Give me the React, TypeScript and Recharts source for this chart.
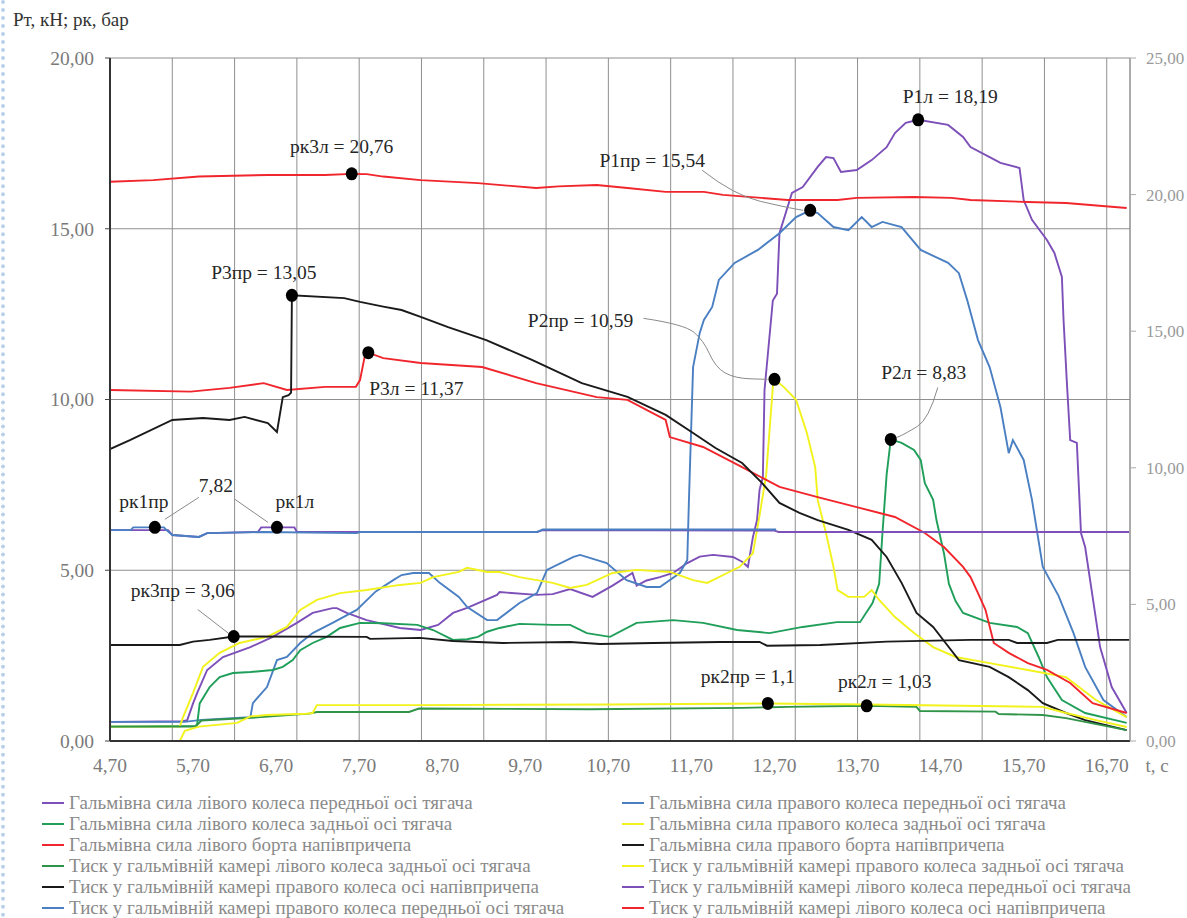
import React from 'react';
import { LineChart, Line, XAxis, YAxis, CartesianGrid, ReferenceDot } from 'recharts';

type Pt = [number, number];

// ---- axes ----
const timeDomain: [number, number] = [4.7, 16.98];
const timeTicks = [4.7, 5.7, 6.7, 7.7, 8.7, 9.7, 10.7, 11.7, 12.7, 13.7, 14.7, 15.7, 16.7];
const gridTimes = [4.7, 5.45, 6.2, 6.95, 7.7, 8.45, 9.2, 9.95, 10.7, 11.45, 12.2, 12.95, 13.7, 14.45, 15.2, 15.95, 16.7];
const forceTicks = [0, 5, 10, 15, 20];
const pressureTicks = [0, 5, 10, 15, 20, 25];

// ---- braking forces Pт, kN (left axis): [t, value] ----
const forceLeftFront: Pt[] = [
  [4.70, 0.56], [5.58, 0.58], [5.63, 0.61], [5.70, 1.10], [5.75, 1.41], [5.87, 2.08], [6.06, 2.46], [6.39, 2.75],
  [6.66, 3.05], [6.95, 3.46], [7.14, 3.75], [7.38, 3.89], [7.43, 3.89], [7.55, 3.75], [7.79, 3.54], [8.19, 3.31],
  [8.44, 3.25], [8.65, 3.40], [8.83, 3.75], [9.00, 3.90], [9.36, 4.28], [9.39, 4.36], [9.84, 4.28], [10.03, 4.30],
  [10.24, 4.45], [10.51, 4.22], [10.75, 4.55], [10.99, 4.92], [11.04, 4.55], [11.16, 4.70], [11.32, 4.80],
  [11.48, 4.92], [11.65, 5.21], [11.80, 5.40], [11.96, 5.45], [12.20, 5.39], [12.31, 5.25], [12.38, 5.10],
  [12.44, 5.97], [12.49, 6.47], [12.52, 7.35], [12.56, 7.73], [12.58, 10.28], [12.68, 12.90], [12.73, 13.10],
  [12.76, 14.87], [12.91, 16.05], [13.04, 16.22], [13.22, 16.81], [13.32, 17.10], [13.41, 17.07], [13.50, 16.66],
  [13.69, 16.72], [13.87, 17.01], [14.05, 17.39], [14.15, 17.80], [14.28, 18.10], [14.43, 18.19], [14.79, 18.04],
  [14.97, 17.69], [15.06, 17.39], [15.29, 17.10], [15.42, 16.93], [15.65, 16.78], [15.70, 15.84], [15.80, 15.26],
  [15.98, 14.67], [16.07, 14.29], [16.16, 13.59], [16.18, 12.33], [16.22, 10.50], [16.26, 8.81], [16.34, 8.73],
  [16.39, 6.09], [16.44, 5.68], [16.53, 4.22], [16.62, 2.75], [16.76, 1.58], [16.94, 0.82],
];

const forceRightFront: Pt[] = [
  [4.70, 0.56], [5.60, 0.56], [5.80, 0.62], [6.39, 0.70], [6.42, 1.11], [6.59, 1.58], [6.71, 2.37], [6.83, 2.46],
  [6.99, 2.87], [7.14, 3.16], [7.38, 3.46], [7.67, 3.84], [7.90, 4.38], [8.11, 4.71], [8.21, 4.86], [8.35, 4.92],
  [8.54, 4.92], [8.67, 4.63], [8.90, 4.22], [9.00, 3.92], [9.24, 3.54], [9.36, 3.54], [9.63, 4.04], [9.84, 4.33],
  [9.96, 5.01], [10.28, 5.39], [10.36, 5.45], [10.68, 5.21], [10.92, 4.71], [11.16, 4.51], [11.32, 4.51],
  [11.56, 4.92], [11.65, 5.30], [11.67, 7.06], [11.72, 10.95], [11.80, 11.95], [11.85, 12.33], [11.95, 12.71],
  [12.03, 13.50], [12.22, 14.00], [12.50, 14.38], [12.76, 14.87], [12.96, 15.34], [13.13, 15.54], [13.22, 15.46],
  [13.41, 15.05], [13.59, 14.96], [13.75, 15.34], [13.87, 15.05], [14.00, 15.20], [14.23, 15.05], [14.46, 14.38],
  [14.79, 14.00], [14.92, 13.70], [15.02, 12.91], [15.15, 11.74], [15.29, 10.95], [15.42, 9.78], [15.52, 8.43],
  [15.57, 8.81], [15.70, 8.23], [15.80, 7.06], [15.93, 5.10], [16.12, 4.25], [16.30, 3.16], [16.44, 2.17],
  [16.66, 1.20], [16.94, 0.70],
];

const forceLeftRear: Pt[] = [
  [4.70, 0.42], [5.73, 0.44], [5.75, 0.50], [5.78, 1.10], [5.90, 1.58], [5.95, 1.70], [6.02, 1.87], [6.18, 1.99],
  [6.39, 2.02], [6.66, 2.08], [6.78, 2.17], [6.90, 2.37], [6.99, 2.66], [7.14, 2.87], [7.31, 3.05], [7.47, 3.31],
  [7.71, 3.46], [7.99, 3.45], [8.40, 3.40], [8.59, 3.25], [8.83, 2.96], [9.00, 2.98], [9.13, 3.05], [9.24, 3.20],
  [9.39, 3.31], [9.63, 3.43], [10.03, 3.40], [10.24, 3.40], [10.44, 3.16], [10.72, 3.05], [11.04, 3.46],
  [11.48, 3.54], [11.84, 3.46], [12.25, 3.25], [12.64, 3.16], [13.04, 3.34], [13.45, 3.48], [13.73, 3.48],
  [13.88, 4.04], [13.96, 4.60], [14.00, 6.09], [14.05, 7.80], [14.10, 8.83], [14.23, 8.73], [14.38, 8.52],
  [14.46, 8.23], [14.51, 7.55], [14.61, 7.06], [14.65, 6.47], [14.74, 5.50], [14.80, 4.60], [14.88, 4.10],
  [14.97, 3.75], [15.29, 3.46], [15.62, 3.34], [15.75, 3.16], [15.88, 2.46], [15.98, 1.87], [16.16, 1.20],
  [16.44, 0.82], [16.94, 0.53],
];

const forceRightRear: Pt[] = [
  [4.70, 0.42], [5.54, 0.42], [5.58, 0.70], [5.70, 1.41], [5.82, 2.17], [6.02, 2.58], [6.26, 2.87], [6.59, 3.05],
  [6.83, 3.34], [6.99, 3.84], [7.19, 4.13], [7.47, 4.33], [7.79, 4.42], [8.19, 4.57], [8.44, 4.63], [8.59, 4.80],
  [8.90, 4.95], [9.00, 5.07], [9.24, 4.95], [9.39, 4.95], [9.63, 4.80], [9.84, 4.71], [10.03, 4.63], [10.24, 4.48],
  [10.44, 4.57], [10.75, 4.92], [11.04, 5.01], [11.44, 4.95], [11.72, 4.71], [11.89, 4.63], [12.13, 4.92],
  [12.28, 5.10], [12.44, 5.50], [12.52, 6.60], [12.60, 7.80], [12.68, 10.37], [12.70, 10.59], [12.81, 10.37],
  [12.96, 9.99], [13.09, 9.02], [13.19, 8.02], [13.22, 7.06], [13.32, 6.09], [13.41, 5.10], [13.46, 4.42],
  [13.59, 4.22], [13.78, 4.22], [13.87, 4.42], [13.96, 4.13], [14.15, 3.63], [14.38, 3.16], [14.61, 2.75],
  [14.88, 2.46], [15.29, 2.28], [15.75, 2.08], [16.21, 1.87], [16.57, 1.20], [16.94, 0.70],
];

const forceLeftTrailer: Pt[] = [
  [4.70, 10.28], [5.67, 10.23], [6.14, 10.34], [6.55, 10.48], [6.83, 10.28], [7.29, 10.37], [7.66, 10.37],
  [7.71, 10.57], [7.77, 11.30], [7.81, 11.37], [7.99, 11.21], [8.44, 11.07], [9.18, 10.95], [9.83, 10.48],
  [10.56, 10.07], [10.93, 9.99], [11.39, 9.40], [11.44, 8.90], [11.84, 8.61], [12.31, 8.02], [12.76, 7.44],
  [13.22, 7.14], [13.69, 6.85], [14.15, 6.56], [14.51, 6.09], [14.74, 5.68], [14.97, 5.10], [15.06, 4.80],
  [15.15, 4.33], [15.24, 3.84], [15.34, 2.87], [15.52, 2.58], [15.75, 2.28], [15.98, 2.08], [16.26, 1.70],
  [16.53, 1.11], [16.94, 0.82],
];

const forceRightTrailer: Pt[] = [
  [4.70, 8.55], [4.94, 8.81], [5.45, 9.40], [5.82, 9.46], [6.14, 9.40], [6.32, 9.49], [6.60, 9.31], [6.71, 9.05],
  [6.78, 10.07], [6.85, 10.13], [6.88, 10.20], [6.89, 13.05], [7.52, 12.97], [7.71, 12.86], [7.99, 12.72],
  [8.21, 12.62], [8.44, 12.42], [8.77, 12.12], [9.23, 11.74], [9.78, 11.16], [10.38, 10.48], [10.93, 10.08],
  [11.39, 9.55], [11.72, 9.02], [11.99, 8.58], [12.31, 8.14], [12.54, 7.58], [12.76, 6.97], [13.00, 6.68],
  [13.22, 6.47], [13.59, 6.18], [13.87, 5.89], [14.05, 5.39], [14.23, 4.63], [14.41, 3.75], [14.61, 3.34],
  [14.76, 2.87], [14.92, 2.37], [15.29, 2.17], [15.52, 1.87], [15.75, 1.49], [15.93, 1.11], [16.21, 0.82],
  [16.44, 0.61], [16.94, 0.32],
];

// ---- chamber pressures рк, bar ----
const pressureLeftRear: Pt[] = [
  [4.70, 0.42], [5.73, 0.42], [5.80, 0.60], [6.40, 0.68], [7.10, 0.80], [7.19, 0.85], [8.30, 0.85], [8.42, 0.95],
  [10.48, 0.93], [12.31, 0.97], [12.86, 1.00], [13.81, 1.03], [14.41, 1.00], [14.45, 0.88], [15.36, 0.86],
  [15.40, 0.79], [15.93, 0.76], [16.21, 0.67], [16.94, 0.32],
];

const pressureRightRear: Pt[] = [
  [4.70, 0.00], [5.54, 0.00], [5.60, 0.30], [5.77, 0.42], [6.23, 0.53], [6.39, 0.72], [6.59, 0.76], [7.06, 0.80],
  [7.14, 0.82], [7.19, 1.05], [8.40, 1.05], [10.70, 1.07], [12.62, 1.10], [13.81, 1.07], [15.93, 1.00],
  [16.21, 0.82], [16.57, 0.61], [16.94, 0.41],
];

const pressureRightTrailer: Pt[] = [
  [4.70, 2.81], [5.54, 2.81], [5.70, 2.91], [5.90, 2.96], [6.19, 3.06], [7.79, 3.05], [7.83, 2.99], [8.43, 3.02],
  [8.83, 2.93], [9.43, 2.87], [10.24, 2.90], [10.60, 2.84], [11.24, 2.87], [12.04, 2.90], [12.52, 2.90],
  [12.61, 2.79], [13.25, 2.81], [14.05, 2.91], [15.06, 2.96], [15.52, 2.96], [15.62, 2.87], [15.98, 2.87],
  [16.11, 2.96], [16.97, 2.96],
];

const pressureLeftFront: Pt[] = [
  [4.70, 7.72], [5.40, 7.72], [5.45, 7.54], [5.77, 7.47], [5.87, 7.61], [6.48, 7.65], [6.52, 7.82], [6.92, 7.82],
  [6.95, 7.65], [9.84, 7.65], [9.91, 7.72], [12.70, 7.70], [12.75, 7.65], [16.97, 7.65],
];

const pressureRightFront: Pt[] = [
  [4.70, 7.72], [4.95, 7.72], [4.98, 7.82], [5.35, 7.82], [5.38, 7.72], [5.45, 7.54], [5.77, 7.47], [5.87, 7.61],
  [6.55, 7.65], [7.67, 7.61], [7.71, 7.65], [9.84, 7.65], [9.91, 7.74], [12.72, 7.74],
];

const pressureLeftTrailer: Pt[] = [
  [4.70, 20.47], [5.22, 20.53], [5.77, 20.66], [6.60, 20.72], [7.29, 20.72], [7.61, 20.76], [7.79, 20.75],
  [7.99, 20.66], [8.44, 20.53], [9.13, 20.42], [9.83, 20.24], [10.10, 20.30], [10.56, 20.35], [10.93, 20.24],
  [11.39, 20.10], [11.85, 20.10], [12.08, 19.99], [12.54, 19.88], [12.86, 19.80], [13.46, 19.80], [13.69, 19.88],
  [14.38, 19.91], [14.83, 19.88], [15.06, 19.80], [15.75, 19.73], [16.21, 19.69], [16.94, 19.51],
];

// ---- marked points ----
type Marker = { id: string; name: string; t: number; v: number; axis: 'left' | 'right'; showValue: boolean };
const markers: Marker[] = [
  { id: 'rk3l', name: 'рк3л', t: 7.61, v: 20.76, axis: 'right', showValue: true },
  { id: 'p3r', name: 'Р3пр', t: 6.89, v: 13.05, axis: 'left', showValue: true },
  { id: 'p1l', name: 'Р1л', t: 14.43, v: 18.19, axis: 'left', showValue: true },
  { id: 'p1r', name: 'Р1пр', t: 13.13, v: 15.54, axis: 'left', showValue: true },
  { id: 'p2r', name: 'Р2пр', t: 12.70, v: 10.59, axis: 'left', showValue: true },
  { id: 'p2l', name: 'Р2л', t: 14.10, v: 8.83, axis: 'left', showValue: true },
  { id: 'p3l', name: 'Р3л', t: 7.81, v: 11.37, axis: 'left', showValue: true },
  { id: 'rk1r', name: 'рк1пр', t: 5.24, v: 7.82, axis: 'right', showValue: false },
  { id: 'rk1l', name: 'рк1л', t: 6.71, v: 7.82, axis: 'right', showValue: false },
  { id: 'rk3r', name: 'рк3пр', t: 6.19, v: 3.06, axis: 'left', showValue: true },
  { id: 'rk2r', name: 'рк2пр', t: 12.62, v: 1.1, axis: 'left', showValue: true },
  { id: 'rk2l', name: 'рк2л', t: 13.81, v: 1.03, axis: 'left', showValue: true },
];
const sharedFrontValue = 7.82;

// ---- styling ----
const FONT = '"Liberation Serif", "Times New Roman", Tinos, "DejaVu Serif", "Noto Serif", serif';
const PURPLE = '#7d4fb8';
const BLUE = '#4a7fc2';
const GREEN = '#1f9f5a';
const GREEN_DARK = '#2f9448';
const YELLOW = '#f2f21c';
const RED = '#f0262c';
const BLACK = '#1a1a1a';

type Series = { key: string; label: string; color: string; axis: 'left' | 'right'; points: Pt[] };
const series: Series[] = [
  { key: 'P1l', label: 'Гальмівна сила лівого колеса передньої осі тягача', color: PURPLE, axis: 'left', points: forceLeftFront },
  { key: 'P1r', label: 'Гальмівна сила правого колеса передньої осі тягача', color: BLUE, axis: 'left', points: forceRightFront },
  { key: 'P2l', label: 'Гальмівна сила лівого колеса задньої осі тягача', color: GREEN, axis: 'left', points: forceLeftRear },
  { key: 'P2r', label: 'Гальмівна сила правого колеса задньої осі тягача', color: YELLOW, axis: 'left', points: forceRightRear },
  { key: 'P3l', label: 'Гальмівна сила лівого борта напівпричепа', color: RED, axis: 'left', points: forceLeftTrailer },
  { key: 'P3r', label: 'Гальмівна сила правого борта напівпричепа', color: BLACK, axis: 'left', points: forceRightTrailer },
  { key: 'rk2l', label: 'Тиск у гальмівній камері лівого колеса задньої осі тягача', color: GREEN_DARK, axis: 'left', points: pressureLeftRear },
  { key: 'rk2r', label: 'Тиск у гальмівній камері правого колеса задньої осі тягача', color: YELLOW, axis: 'left', points: pressureRightRear },
  { key: 'rk3r', label: 'Тиск у гальмівній камері правого колеса осі напівпричепа', color: BLACK, axis: 'left', points: pressureRightTrailer },
  { key: 'rk1l', label: 'Тиск у гальмівній камері лівого колеса передньої осі тягача', color: PURPLE, axis: 'right', points: pressureLeftFront },
  { key: 'rk1r', label: 'Тиск у гальмівній камері правого колеса передньої осі тягача', color: BLUE, axis: 'right', points: pressureRightFront },
  { key: 'rk3l', label: 'Тиск у гальмівній камері лівого колеса осі напівпричепа', color: RED, axis: 'right', points: pressureLeftTrailer },
];

// label placement relative to each marked point (px)
type Placement = { dx: number; dy: number; leaders?: Pt[][]; extra?: { dx: number; dy: number } };
const placement: Record<string, Placement> = {
  rk3l: { dx: -10, dy: -27 },
  p3r: { dx: -28, dy: -23 },
  p1l: { dx: 32, dy: -23 },
  p1r: { dx: -158, dy: -50, leaders: [[[-108, -40], [-76, -15], [-24, -3], [-7, 0]]] },
  p2r: { dx: -194, dy: -59, leaders: [[[-131, -61], [-90, -55], [-71, -39], [-59, -12], [-40, -1], [-7, 0]]] },
  p2l: { dx: 33, dy: -67, leaders: [[[47, -52], [38, -20], [15, -6], [6, -2]]] },
  p3l: { dx: 48, dy: 36 },
  rk1r: { dx: -11, dy: -26, leaders: [[[44, -30], [10, -8]]], extra: { dx: 61, dy: -42 } },
  rk1l: { dx: 18, dy: -26, leaders: [[[-42, -28], [-9, -5]]] },
  rk3r: { dx: -51, dy: -46, leaders: [[[-36, -27], [-5, -3]]] },
  rk2r: { dx: -20, dy: -27 },
  rk2l: { dx: 18, dy: -24 },
};

const fmt = (v: number) => String(v).replace('.', ',');
const fmt2 = (v: number) => v.toFixed(2).replace('.', ',');

const smoothPath = (pts: Pt[]) => {
  if (pts.length < 3) return pts.map((p, i) => `${i ? 'L' : 'M'}${p[0]},${p[1]}`).join(' ');
  let d = `M${pts[0][0]},${pts[0][1]}`;
  for (let i = 1; i < pts.length - 1; i++) {
    const mx = (pts[i][0] + pts[i + 1][0]) / 2;
    const my = (pts[i][1] + pts[i + 1][1]) / 2;
    d += ` Q${pts[i][0]},${pts[i][1]} ${mx},${my}`;
  }
  const last = pts[pts.length - 1];
  d += ` L${last[0]},${last[1]}`;
  return d;
};

const labelText = { fontFamily: FONT, fontSize: 19.5, fill: '#262626' };

const markerShape = (m: Marker) => (props: any) => {
  const { cx, cy } = props;
  const p = placement[m.id];
  const text = m.showValue ? `${m.name} = ${fmt(m.v)}` : m.name;
  return (
    <g>
      {(p.leaders || []).map((ln, i) => (
        <path
          key={i}
          d={smoothPath(ln.map(([x, y]) => [cx + x, cy + y] as Pt))}
          fill="none"
          stroke="#8a8a8a"
          strokeWidth={1}
        />
      ))}
      <ellipse cx={cx} cy={cy} rx={6} ry={6.5} fill="#000" />
      <text x={cx + p.dx} y={cy + p.dy} textAnchor="middle" dominantBaseline="central" {...labelText}>
        {text}
      </text>
      {p.extra && (
        <text x={cx + p.extra.dx} y={cy + p.extra.dy} textAnchor="middle" dominantBaseline="central" {...labelText}>
          {fmt(sharedFrontValue)}
        </text>
      )}
    </g>
  );
};

const axisTitle = (props: any) => {
  const vb = props.viewBox;
  return (
    <text x={vb.x + vb.width + 27} y={vb.y + 30.5} textAnchor="middle" fontFamily={FONT} fontSize={19} fill="#808080">
      t, c
    </text>
  );
};

const LegendColumn = ({ items, left }: { items: Series[]; left: number }) => (
  <div style={{ position: 'absolute', left, top: 792, fontFamily: FONT, fontSize: 19, color: '#8a8a8a', lineHeight: '21px', whiteSpace: 'nowrap' }}>
    {items.map((s) => (
      <div key={s.key} style={{ display: 'flex', alignItems: 'center', height: 21 }}>
        <span style={{ display: 'inline-block', width: 22, height: 2, background: s.color, marginRight: 5 }} />
        <span>{s.label}</span>
      </div>
    ))}
  </div>
);

export default function App() {
  const leftItems = series.filter((_, i) => i % 2 === 0);
  const rightItems = series.filter((_, i) => i % 2 === 1);
  return (
    <div style={{ position: 'absolute', left: 0, top: 0, width: 1187, height: 918, background: '#fff', overflow: 'hidden' }}>
      <div style={{ position: 'absolute', left: 1, top: 0, width: 0, height: 918, borderLeft: '4px dotted #b9d0e8' }} />
      <div style={{ position: 'absolute', left: 13, top: 9, fontFamily: FONT, fontSize: 19, color: '#333' }}>
        Рт, кН; рк, бар
      </div>
      <LineChart width={1187} height={918} margin={{ top: 58, right: 0, bottom: 0, left: 0 }}>
        <CartesianGrid xAxisId="grid" yAxisId="left" stroke="#8f8f8f" strokeWidth={1} />
        <XAxis
          xAxisId="time"
          type="number"
          dataKey="t"
          domain={timeDomain}
          ticks={timeTicks}
          allowDataOverflow
          height={177}
          tickFormatter={fmt2}
          tickLine={false}
          tickSize={6}
          tickMargin={11}
          axisLine={{ stroke: '#333', strokeWidth: 2 }}
          tick={{ fontFamily: FONT, fontSize: 19.5, fill: '#7a7a7a' }}
          label={axisTitle}
        />
        <XAxis
          xAxisId="grid"
          type="number"
          dataKey="t"
          domain={timeDomain}
          ticks={gridTimes}
          allowDataOverflow
          height={0}
          hide
        />
        <YAxis
          yAxisId="left"
          domain={[0, 20]}
          ticks={forceTicks}
          width={110}
          tickFormatter={fmt2}
          tickSize={5}
          tickMargin={11}
          axisLine={{ stroke: '#333', strokeWidth: 2 }}
          tickLine={{ stroke: '#444' }}
          tick={{ fontFamily: FONT, fontSize: 19.5, fill: '#7a7a7a' }}
        />
        <YAxis
          yAxisId="right"
          orientation="right"
          domain={[0, 25]}
          ticks={pressureTicks}
          width={57}
          tickFormatter={fmt2}
          tickSize={6}
          tickMargin={10}
          axisLine={{ stroke: '#8f8f8f' }}
          tickLine={{ stroke: '#aaa' }}
          tick={{ fontFamily: FONT, fontSize: 17, fill: '#9a9a9a' }}
        />
        {series.map((s) => (
          <Line
            key={s.key}
            data={s.points.map(([t, v]) => ({ t, v }))}
            dataKey="v"
            xAxisId="time"
            yAxisId={s.axis}
            type="linear"
            stroke={s.color}
            strokeWidth={1.9}
            dot={false}
            activeDot={false}
            isAnimationActive={false}
          />
        ))}
        {markers.map((m) => (
          <ReferenceDot
            key={m.id}
            x={m.t}
            y={m.v}
            xAxisId="time"
            yAxisId={m.axis}
            r={6}
            shape={markerShape(m)}
          />
        ))}
      </LineChart>
      <LegendColumn items={leftItems} left={42} />
      <LegendColumn items={rightItems} left={622} />
    </div>
  );
}
